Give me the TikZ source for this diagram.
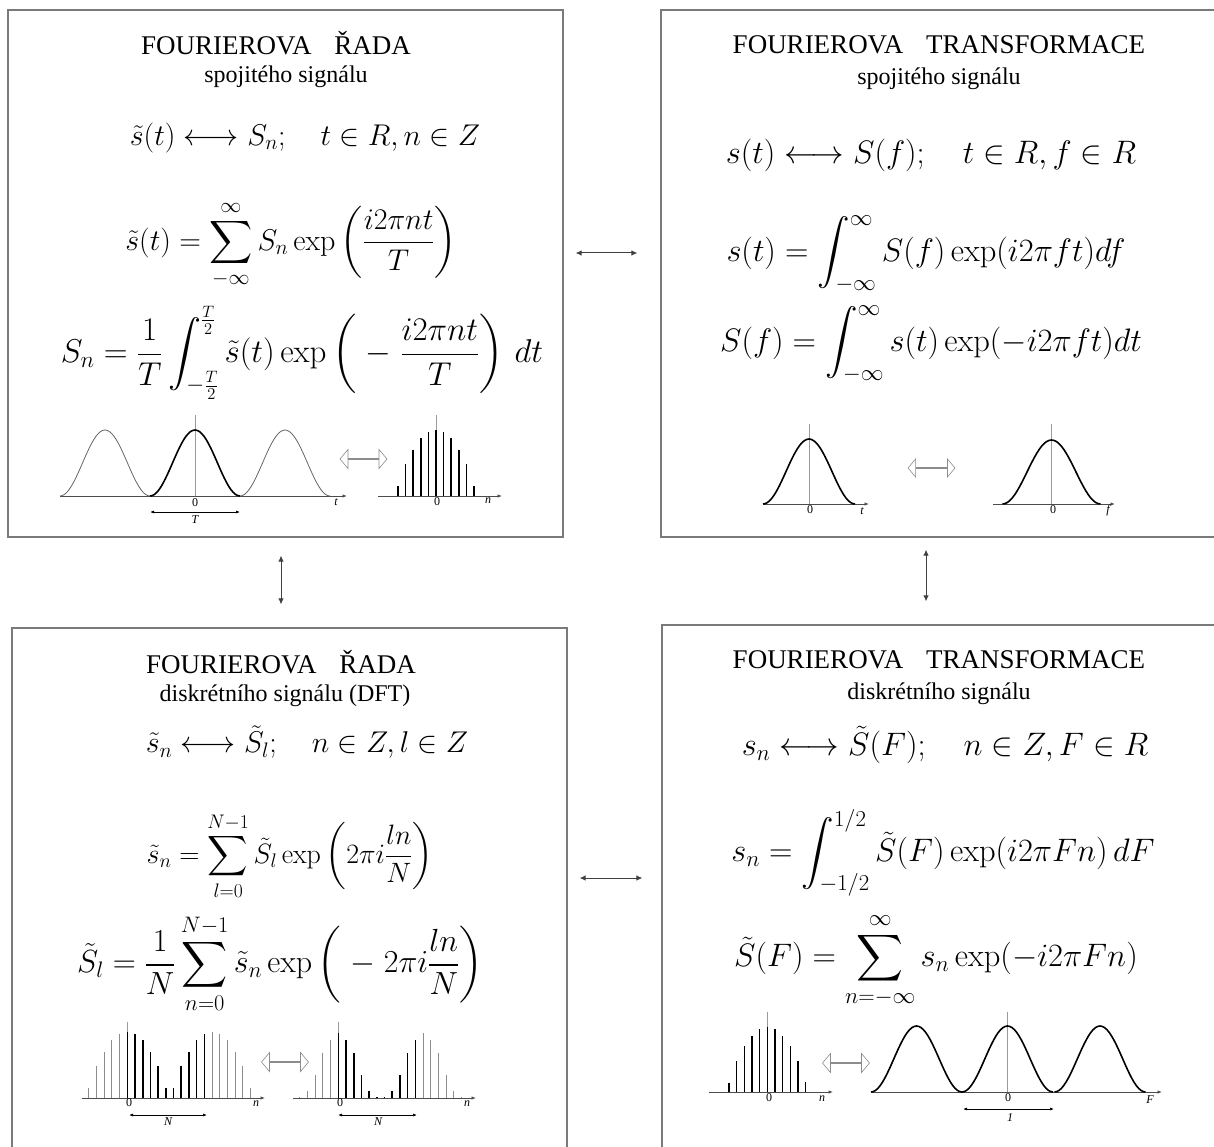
\documentclass[tikz,border=0pt]{standalone}
\usepackage{fix-cm}
\usepackage{amsmath,amssymb}
\usepackage[no-math]{fontspec}
\setmainfont{Liberation Serif}
\usetikzlibrary{arrows.meta,positioning,shapes.arrows}
\definecolor{fframe}{HTML}{7A7A7A}
\definecolor{faxis}{HTML}{9A9A9A}
\tikzset{
  panel/.style={draw=fframe,line width=1.2pt,inner sep=0pt},
  ttl/.style={font=\fontsize{27}{30}\selectfont,inner sep=0pt},
  subt/.style={font=\fontsize{24}{26}\selectfont,inner sep=0pt},
  eq/.style={font=\fontsize{30}{34}\selectfont,inner sep=0pt},
  eqb/.style={font=\fontsize{32.5}{36}\selectfont,inner sep=0pt},
  lab/.style={font=\fontsize{12}{12}\selectfont,inner sep=0pt},
  link/.style={{Latex[length=6pt,width=5.5pt]}-{Latex[length=6pt,width=5.5pt]},line width=1pt,draw=black!75},
  ax/.style={-{Latex[length=4.5pt,width=3.5pt]},line width=0.8pt,draw=black!70},
  yax/.style={line width=0.8pt,draw=faxis},
  span/.style={{Latex[length=4pt,width=3pt]}-{Latex[length=4pt,width=3pt]},line width=0.7pt},
  heavy/.style={line width=1.6pt,draw=black},
  faint/.style={line width=0.8pt,draw=black!60},
  stemb/.style={line width=1.6pt,draw=black},
  stemg/.style={line width=0.9pt,draw=black!45},
  dblarr/.style={double arrow,draw=black!45,fill=white,line width=0.6pt,minimum height=47pt,minimum width=19pt,double arrow head extend=5.5pt,double arrow tip angle=100,inner sep=0pt},
}
\begin{document}
\begin{tikzpicture}[x=1pt,y=-1pt]
  \fill[white] (0,0) rectangle (1214,1147);
  \useasboundingbox (0,0) rectangle (1214,1147);

  \node[panel,minimum width=555pt,minimum height=527pt] (tl) at (285.5,273.5) {};
  \node[panel,minimum width=556pt,minimum height=527pt] (tr) at (939,273.5) {};
  \node[panel,minimum width=555pt,minimum height=522pt] (bl) at (289.5,889) {};
  \node[panel,minimum width=555pt,minimum height=525pt] (br) at (939.5,887.5) {};

  \draw[link,shorten <=12pt,shorten >=23pt] (tl.east|-0,253) -- (tr.west|-0,253);
  \draw[link,shorten <=12pt,shorten >=19pt] (bl.east|-0,878) -- (br.west|-0,878);
  \draw[link,shorten <=18pt,shorten >=23pt] (tl.south-|281,0) -- (bl.north-|281,0);
  \draw[link,shorten <=12pt,shorten >=23pt] (tr.south-|926,0) -- (br.north-|926,0);

  % top left
  \node[ttl] (tlt) at (276,43) {FOURIEROVA\hspace{0.85em}ŘADA};
  \node[subt] (tls) at (286,77) {spojitého signálu};
  \node[eq] (tle1) at (305,138) {$\tilde{s}(t)\longleftrightarrow S_n;\quad t\in R, n\in Z$};
  \node[eq] (tle2) at (291,245) {$\displaystyle\tilde{s}(t)=\sum_{-\infty}^{\infty}S_n\exp\left(\frac{i2\pi nt}{T}\right)$};
  \node[eq,font=\fontsize{33}{36}\selectfont] (tle3) at (302,353) {$\displaystyle S_n=\frac{1}{T}\int_{-\frac{T}{2}}^{\frac{T}{2}}\tilde{s}(t)\exp\left(\;-\;\frac{i2\pi nt}{T}\right)\,dt$};
  \draw[ax] (60,496) -- (347,496);
  \draw[yax] (195,496) -- (195,415);
  \foreach \c/\s in {105/faint,195/heavy,285/faint}
    \draw[\s] plot[domain=-1:1,samples=41,variable=\u] ({\c+45*\u},{496-66*cos(90*\u)*cos(90*\u)});
  \draw[span] (150,512) -- (240,512);
  \node[lab] (tl0) at (195,503) {0};
  \node[lab] (tlx) at (336,502) {\itshape t};
  \node[lab] (tlT) at (195,520) {\itshape T};
  \node[dblarr] (tlarr) at (363.5,459) {};
  \draw[ax] (378,496) -- (502,496);
  \draw[yax] (436,496) -- (436,415);
  \foreach \h [count=\k from -5] in {10,32,46,58,64,66,64,58,46,32,10}
    \draw[stemb] (436+7.6*\k,496) -- ++(0,-\h);
  \node[lab] (tl0b) at (437,502) {0};
  \node[lab] (tln) at (488,501) {\itshape n};

  % top right
  \node[ttl] (trt) at (939,45) {FOURIEROVA\hspace{0.85em}TRANSFORMACE};
  \node[subt] (trs) at (939,79) {spojitého signálu};
  \node[eqb] (tre1) at (931,155) {$s(t)\longleftrightarrow S(f);\quad t\in R, f\in R$};
  \node[eqb] (tre2) at (926,254) {$\displaystyle s(t)=\int_{-\infty}^{\infty}S(f)\exp(i2\pi ft)df$};
  \node[eqb] (tre3) at (931,344) {$\displaystyle S(f)=\int_{-\infty}^{\infty}s(t)\exp(-i2\pi ft)dt$};
  \draw[ax] (763,504) -- (869,504);
  \draw[yax] (809,504) -- (809,424);
  \draw[heavy] plot[domain=-1:1,samples=41,variable=\u] ({809+46*\u},{504-65*cos(90*\u)*cos(90*\u)});
  \node[lab] (tr0) at (810,510) {0};
  \node[lab] (trx) at (862,511) {\itshape t};
  \node[dblarr,minimum width=18pt] (trarr) at (931.5,468) {};
  \draw[ax] (993,504) -- (1115,504);
  \draw[yax] (1051,504) -- (1051,424);
  \draw[heavy] plot[domain=-1:1,samples=41,variable=\u] ({1051.5+49*\u},{504-64*cos(90*\u)*cos(90*\u)});
  \node[lab] (tr0b) at (1053,510) {0};
  \node[lab] (trf) at (1108,511) {\itshape f};

  % bottom left
  \node[ttl] (blt) at (281,662) {FOURIEROVA\hspace{0.85em}ŘADA};
  \node[subt] (bls) at (285,696) {diskrétního signálu (DFT)};
  \node[eq] (ble1) at (307,742) {$\tilde{s}_n\longleftrightarrow\tilde{S}_l;\quad n\in Z, l\in Z$};
  \node[eq,font=\fontsize{28}{32}\selectfont] (ble2) at (290,856) {$\displaystyle\tilde{s}_n=\sum_{l=0}^{N-1}\tilde{S}_l\exp\left(2\pi i\frac{ln}{N}\right)$};
  \node[eq,font=\fontsize{32}{36}\selectfont] (ble3) at (280,964) {$\displaystyle\tilde{S}_l=\frac{1}{N}\sum_{n=0}^{N-1}\tilde{s}_n\exp\left(\;-\;2\pi i\frac{ln}{N}\right)$};
  \draw[ax] (82,1098) -- (265,1098);
  \draw[yax] (127.3,1098) -- (127.3,1022);
  \foreach \h [count=\k from -5] in {10,32,46,58,64}
    \draw[stemg] (127.3+7.7*\k,1098) -- ++(0,-\h);
  \foreach \h [count=\k from 0] in {66,64,58,46,32,10,10,32,46,58,64}
    \draw[stemb] (127.3+7.7*\k,1098) -- ++(0,-\h);
  \foreach \h [count=\k from 11] in {66,64,58,46,32,10}
    \draw[stemg] (127.3+7.7*\k,1098) -- ++(0,-\h);
  \draw[span] (129,1115) -- (207,1115);
  \node[lab] (bl0) at (129,1103) {0};
  \node[lab] (bln) at (256,1104) {\itshape n};
  \node[lab] (blN) at (168,1122) {\itshape N};
  \node[dblarr] (blarr) at (285,1062) {};
  \draw[ax] (293,1098) -- (476,1098);
  \draw[yax] (338.3,1098) -- (338.3,1022);
  \foreach \h [count=\k from -5] in {1.5,7,23,45,58}
    \draw[stemg] (338.3+7.7*\k,1098) -- ++(0,-\h);
  \foreach \h [count=\k from 0] in {65,58,45,23,7,1.5,1.5,7,23,45,58}
    \draw[stemb] (338.3+7.7*\k,1098) -- ++(0,-\h);
  \foreach \h [count=\k from 11] in {65,58,45,23,7,1.5}
    \draw[stemg] (338.3+7.7*\k,1098) -- ++(0,-\h);
  \draw[span] (338,1115) -- (417,1115);
  \node[lab] (bl0b) at (340,1103) {0};
  \node[lab] (blnb) at (467,1104) {\itshape n};
  \node[lab] (blNb) at (378,1122) {\itshape N};

  % bottom right
  \node[ttl] (brt) at (939,660) {FOURIEROVA\hspace{0.85em}TRANSFORMACE};
  \node[subt] (brs) at (939,694) {diskrétního signálu};
  \node[eqb] (bre1) at (945,745) {$s_n\longleftrightarrow\tilde{S}(F);\quad n\in Z, F\in R$};
  \node[eqb] (bre2) at (943,853) {$\displaystyle s_n=\int_{-1/2}^{1/2}\tilde{S}(F)\exp(i2\pi Fn)\,dF$};
  \node[eqb] (bre3) at (936,961) {$\displaystyle\tilde{S}(F)=\sum_{n=-\infty}^{\infty}s_n\exp(-i2\pi Fn)$};
  \draw[ax] (709,1092) -- (833,1092);
  \draw[yax] (767.3,1092) -- (767.3,1012);
  \foreach \h [count=\k from -5] in {9,31,46,56,63,65,63,56,46,31,10}
    \draw[stemb] (767.3+7.67*\k,1092) -- ++(0,-\h);
  \node[lab] (br0) at (769,1098) {0};
  \node[lab] (brn) at (822,1099) {\itshape n};
  \node[dblarr] (brarr) at (846,1063) {};
  \draw[ax] (872,1092) -- (1162,1092);
  \draw[yax] (1007,1092) -- (1007,1012);
  \foreach \c in {916.5,1007.5,1100}
    \draw[heavy] plot[domain=-1:1,samples=41,variable=\u] ({\c+45.5*\u},{1092-66*cos(90*\u)*cos(90*\u)});
  \draw[span] (963,1109) -- (1054,1109);
  \node[lab] (br0b) at (1008,1098) {0};
  \node[lab] (brF) at (1150,1100) {\itshape F};
  \node[lab] (br1) at (1010,1118) {\itshape 1};
\end{tikzpicture}
\end{document}
